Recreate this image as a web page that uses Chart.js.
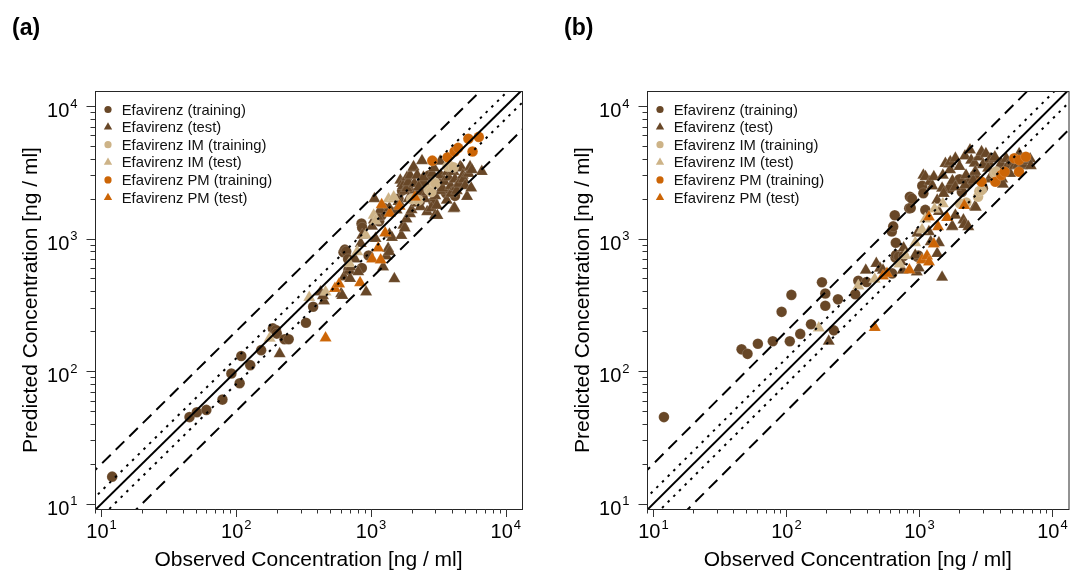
<!DOCTYPE html>
<html>
<head>
<meta charset="utf-8">
<script src="https://cdn.jsdelivr.net/npm/chart.js@4.4.1/dist/chart.umd.min.js"></script>
<style>
  html, body { margin: 0; padding: 0; background: #fff; }
  #wrap { position: relative; width: 1076px; height: 572px; overflow: hidden; background: #fff; }
  #wrap canvas { position: absolute; top: 0; }
</style>
</head>
<body>
<div id="wrap">
  <canvas id="panelA" width="540" height="572" style="left:0px"></canvas>
  <canvas id="panelB" width="536" height="572" style="left:540px"></canvas>
</div>
<script>
// ---- series names (legend order) ----
const seriesNames = [
  'Efavirenz (training)', 'Efavirenz (test)',
  'Efavirenz IM (training)', 'Efavirenz IM (test)',
  'Efavirenz PM (training)', 'Efavirenz PM (test)'
];

// ---- axis limits and tick values (ng/ml) ----
const xLimits = [8.95, 13200];
const yLimits = [9.12, 12980];
const decadeTicks = [10, 100, 1000, 10000];
const decadeExponents = [1, 2, 3, 4];
const minorMultipliers = [2, 3, 4, 5, 6, 7, 8, 9];

// reference lines: line of identity, 1.25-fold and 2-fold limits
const foldFactors = [1, 1.25, 0.8, 2, 0.5];
const refLineX = [1, 100000];

// ---- panel (a): [observed, predicted] ----
const efvTrainA = [[12,16],[45,45],[51,49],[60,51],[79,61],[92,96],[106,81],[109,130],[127,111],[153,144],[187,210],[197,204],[200,192],[228,174],[245,174],[329,232],[372,306],[625,790],[640,825],[655,800],[676,700],[680,580],[855,600],[850,1300],[860,1210],[960,745],[1150,1350],[1200,1500],[1250,1700],[1400,1600],[1600,2000],[1700,2300],[1740,2640],[1900,2500],[2100,2200],[2300,1900],[2400,2700],[2700,3000],[2900,1900],[3200,2600],[3600,2200],[4200,2100]];
const efvTestA = [[210,135],[422,395],[448,338],[440,370],[600,384],[612,372],[630,513],[690,575],[700,500],[705,610],[760,700],[804,561],[840,920],[860,1060],[920,395],[1018,1240],[1050,1380],[1060,2000],[1080,1000],[1120,1470],[1170,1650],[1230,610],[1300,740],[1340,840],[1368,795],[1368,1700],[1370,1080],[1430,1020],[1490,497],[1550,1640],[1600,1900],[1650,2760],[1680,1057],[1700,2600],[1730,2490],[1740,1260],[1780,1200],[1780,2300],[1833,1405],[1850,2400],[1850,2900],[1890,2660],[1900,2000],[1950,1540],[1950,3000],[2000,1650],[2060,3410],[2070,3480],[2100,2600],[2200,1850],[2200,3000],[2260,2450],[2330,1740],[2390,3870],[2400,2200],[2450,2900],[2500,2000],[2600,2250],[2610,1595],[2700,2500],[2800,1700],[2850,3100],[2935,3410],[2990,1500],[3000,2100],[3080,1780],[3110,1495],[3260,3830],[3260,2300],[3300,3000],[3400,2400],[3500,2700],[3650,1950],[3700,3200],[3770,2900],[3900,2500],[3930,2190],[4100,1680],[4100,3200],[4170,1700],[4200,2800],[4300,2450],[4330,2300],[4500,2600],[4590,3480],[4700,3410],[4800,3000],[4870,2800],[5000,2500],[5160,2080],[5300,3100],[5430,3480],[5540,2410],[5600,3300],[6640,3200]];
const imTrainA = [[1990,1990],[2050,2000],[2250,1950],[2690,2330],[2800,2250],[2940,2650],[3000,2600],[3700,3500],[3860,3520],[4100,3450]];
const imTestA = [[177,177],[348,360],[460,396],[690,650],[790,795],[915,1060],[1047,1500],[1080,1360],[1350,1990],[1475,2055]];
const pmTrainA = [[2850,3870],[3700,4100],[4170,4540],[4430,4830],[5280,5660],[6310,5850],[5670,4540]];
const pmTestA = [[460,178],[540,420],[580,455],[830,465],[1020,700],[1130,850],[1180,690],[1200,1800],[1275,1100],[1380,1550],[1630,1750],[2120,2050]];

// ---- panel (b): [observed, predicted] ----
const efvTrainB = [[12,45],[46,146],[51,135],[61,161],[79,168],[92,280],[106,168],[109,376],[127,191],[153,226],[185,468],[196,385],[196,311],[227,203],[244,348],[329,380],[347,481],[400,470],[623,546],[620,1130],[635,1235],[652,1500],[660,720],[664,930],[667,751],[700,730],[760,740],[838,1690],[847,2070],[860,1700],[880,2000],[966,730],[980,745],[1050,2500],[1070,2200],[1107,1645],[1700,2400],[2000,2800],[2085,2250],[2335,2610],[2600,3000],[3000,2400],[3300,3700]];
const efvTestB = [[208,168],[395,578],[474,650],[505,598],[532,578],[726,668],[748,578],[760,848],[930,750],[955,560],[990,600],[966,1095],[1178,1125],[1215,946],[1360,773],[1400,930],[1400,1600],[1480,510],[1070,3010],[1110,2930],[1200,2700],[1250,2490],[1283,2925],[1360,1950],[1480,2400],[1500,3000],[1520,2190],[1567,3690],[1667,3650],[1700,3300],[1706,3800],[1755,1230],[1770,2730],[1770,1240],[1860,2450],[1862,4030],[1862,1500],[2000,3500],[2140,1380],[2170,1276],[2200,2540],[2200,4200],[2240,3010],[2330,1230],[2400,4650],[2450,3900],[2540,2750],[2600,3700],[2610,1740],[2630,3200],[2650,1720],[2800,4120],[2930,4510],[3000,3600],[3160,4370],[3280,3390],[3360,2820],[3400,4000],[3500,3000],[3670,4030],[3690,4120],[3980,3200],[4000,3500],[4120,3690],[4190,2820],[4240,2570],[4400,3300],[4500,4000],[4610,3550],[4800,3100],[5000,3800],[5200,3550],[5500,3600],[5620,4370],[5900,3550],[6030,3630],[6370,3870],[6800,3990],[6870,3550]];
const imTrainB = [[2020,1840],[2250,1870],[2760,2070],[2820,2280],[2930,2320],[3670,3100],[3770,3200]];
const imTestB = [[175,212],[347,439],[461,493],[706,643],[782,745],[930,930],[1047,1165],[1107,1405],[1300,1670],[1500,1830]];
const pmTrainB = [[2930,2680],[3720,2680],[4120,3010],[4370,3190],[5160,4030],[5620,3910],[6310,4140],[5600,3190]];
const pmTestB = [[461,213],[532,521],[570,546],[840,580],[1045,690],[1140,740],[1180,665],[1283,910],[1178,1455],[1380,1228],[1615,1440],[2175,1775]];

// ---- styling ----
const FONT = '"Liberation Sans", Arial, Helvetica, sans-serif';
const BROWN = '#684727', TAN = '#cdb387', ORANGE = '#cc6506';
const seriesColors = [BROWN, BROWN, TAN, TAN, ORANGE, ORANGE];
const seriesShapes = ['circle', 'triangle', 'circle', 'triangle', 'circle', 'triangle'];
const lineDashes = [[], [2.5, 5.5], [2.5, 5.5], [12, 7], [12, 7]];

function toPoints(pairs) {
  return pairs.map(p => ({ x: p[0], y: p[1] }));
}

function pointDataset(i, pairs) {
  const tri = seriesShapes[i] === 'triangle';
  return {
    label: seriesNames[i],
    data: toPoints(pairs),
    pointStyle: seriesShapes[i],
    pointRadius: tri ? 7 : 5.3,
    pointHoverRadius: tri ? 7 : 5.3,
    backgroundColor: seriesColors[i],
    borderColor: 'rgba(255,255,255,0.3)',
    borderWidth: 0.5,
    showLine: false,
    order: 10 - i
  };
}

function refDatasets() {
  return foldFactors.map((k, j) => ({
    label: 'ref' + j,
    data: refLineX.map(v => ({ x: v, y: v * k })),
    showLine: true,
    pointRadius: 0,
    borderColor: '#000',
    borderWidth: 2,
    borderDash: lineDashes[j],
    borderCapStyle: 'butt',
    fill: false,
    tension: 0,
    clip: 0,
    order: 0
  }));
}

// superscripted power-of-ten label: "10" followed by a raised exponent
function drawPow(ctx, exp, x, baseline, align) {
  ctx.font = '20px ' + FONT;
  const w1 = ctx.measureText('10').width;
  ctx.font = '13px ' + FONT;
  const w2 = ctx.measureText(String(exp)).width;
  const total = w1 + 1 + w2;
  const x0 = align === 'center' ? x - total / 2 : x - total;
  ctx.textAlign = 'left';
  ctx.textBaseline = 'alphabetic';
  ctx.font = '20px ' + FONT;
  ctx.fillText('10', x0, baseline);
  ctx.font = '13px ' + FONT;
  ctx.fillText(String(exp), x0 + w1 + 1, baseline - 9.5);
}

const panelDecor = {
  id: 'panelDecor',
  afterDraw(chart, args, opts) {
    const { ctx, chartArea: a } = chart;
    const xs = chart.scales.x, ys = chart.scales.y;
    ctx.save();

    // box around the plotting region
    ctx.strokeStyle = '#262626';
    ctx.lineWidth = 1;
    ctx.strokeRect(a.left + 0.5, a.top + 0.5, a.right - a.left, a.bottom - a.top);

    // tick marks
    ctx.strokeStyle = '#333';
    ctx.lineWidth = 1;
    const minorVals = [];
    decadeTicks.forEach(d => minorMultipliers.forEach(m => minorVals.push(d / 10 * m)));
    ctx.beginPath();
    minorVals.forEach(v => {
      if (v > xLimits[0] && v < xLimits[1]) {
        const px = Math.round(xs.getPixelForValue(v)) + 0.5;
        ctx.moveTo(px, a.bottom); ctx.lineTo(px, a.bottom + 4.5);
      }
      if (v > yLimits[0] && v < yLimits[1]) {
        const py = Math.round(ys.getPixelForValue(v)) + 0.5;
        ctx.moveTo(a.left, py); ctx.lineTo(a.left - 4.5, py);
      }
    });
    decadeTicks.forEach(v => {
      const px = Math.round(xs.getPixelForValue(v)) + 0.5;
      ctx.moveTo(px, a.bottom); ctx.lineTo(px, a.bottom + 8);
      const py = Math.round(ys.getPixelForValue(v)) + 0.5;
      ctx.moveTo(a.left, py); ctx.lineTo(a.left - 8.5, py);
    });
    ctx.stroke();

    // tick labels
    ctx.fillStyle = '#000';
    decadeTicks.forEach((v, i) => {
      drawPow(ctx, decadeExponents[i], xs.getPixelForValue(v), a.bottom + 29.3, 'center');
      drawPow(ctx, decadeExponents[i], a.left - 17.5, ys.getPixelForValue(v) + 11.3, 'right');
    });

    // axis titles
    ctx.font = '21px ' + FONT;
    ctx.textAlign = 'center';
    ctx.textBaseline = 'alphabetic';
    ctx.fillText('Observed Concentration [ng / ml]', (a.left + a.right) / 2, 566);
    ctx.save();
    ctx.translate(a.left - 58.5, (a.top + a.bottom) / 2);
    ctx.rotate(-Math.PI / 2);
    ctx.fillText('Predicted Concentration [ng / ml]', 0, 0);
    ctx.restore();

    // panel tag
    ctx.font = 'bold 23px ' + FONT;
    ctx.textAlign = 'left';
    ctx.fillText(opts.tag, opts.tagX, 35);

    // legend
    ctx.font = '14.8px ' + FONT;
    seriesNames.forEach((name, i) => {
      const cy = a.top + 18.5 + i * 17.6;
      const cx = a.left + 13;
      ctx.fillStyle = seriesColors[i];
      ctx.beginPath();
      if (seriesShapes[i] === 'circle') {
        ctx.arc(cx, cy, 3.6, 0, Math.PI * 2);
      } else {
        const r = 4.8;
        ctx.moveTo(cx, cy - r);
        ctx.lineTo(cx + r * Math.sin(Math.PI * 2 / 3), cy + r * 0.5);
        ctx.lineTo(cx - r * Math.sin(Math.PI * 2 / 3), cy + r * 0.5);
        ctx.closePath();
      }
      ctx.fill();
      ctx.fillStyle = '#111';
      ctx.fillText(name, a.left + 26.7, cy + 5);
    });

    ctx.restore();
  }
};

function makePanel(canvasId, tag, tagX, pad, seriesData) {
  const datasets = refDatasets().concat(seriesData.map((pairs, i) => pointDataset(i, pairs)));
  return new Chart(document.getElementById(canvasId), {
    type: 'scatter',
    data: { datasets },
    options: {
      responsive: false,
      animation: false,
      events: [],
      devicePixelRatio: 1,
      layout: { padding: pad },
      scales: {
        x: { type: 'logarithmic', min: xLimits[0], max: xLimits[1], display: false },
        y: { type: 'logarithmic', min: yLimits[0], max: yLimits[1], display: false }
      },
      plugins: {
        legend: { display: false },
        tooltip: { enabled: false },
        panelDecor: { tag, tagX }
      }
    },
    plugins: [panelDecor]
  });
}

makePanel('panelA', '(a)', 12, { left: 95, top: 91, right: 18, bottom: 63 },
  [efvTrainA, efvTestA, imTrainA, imTestA, pmTrainA, pmTestA]);
makePanel('panelB', '(b)', 24, { left: 107, top: 91, right: 1, bottom: 63 },
  [efvTrainB, efvTestB, imTrainB, imTestB, pmTrainB, pmTestB]);
</script>
</body>
</html>
